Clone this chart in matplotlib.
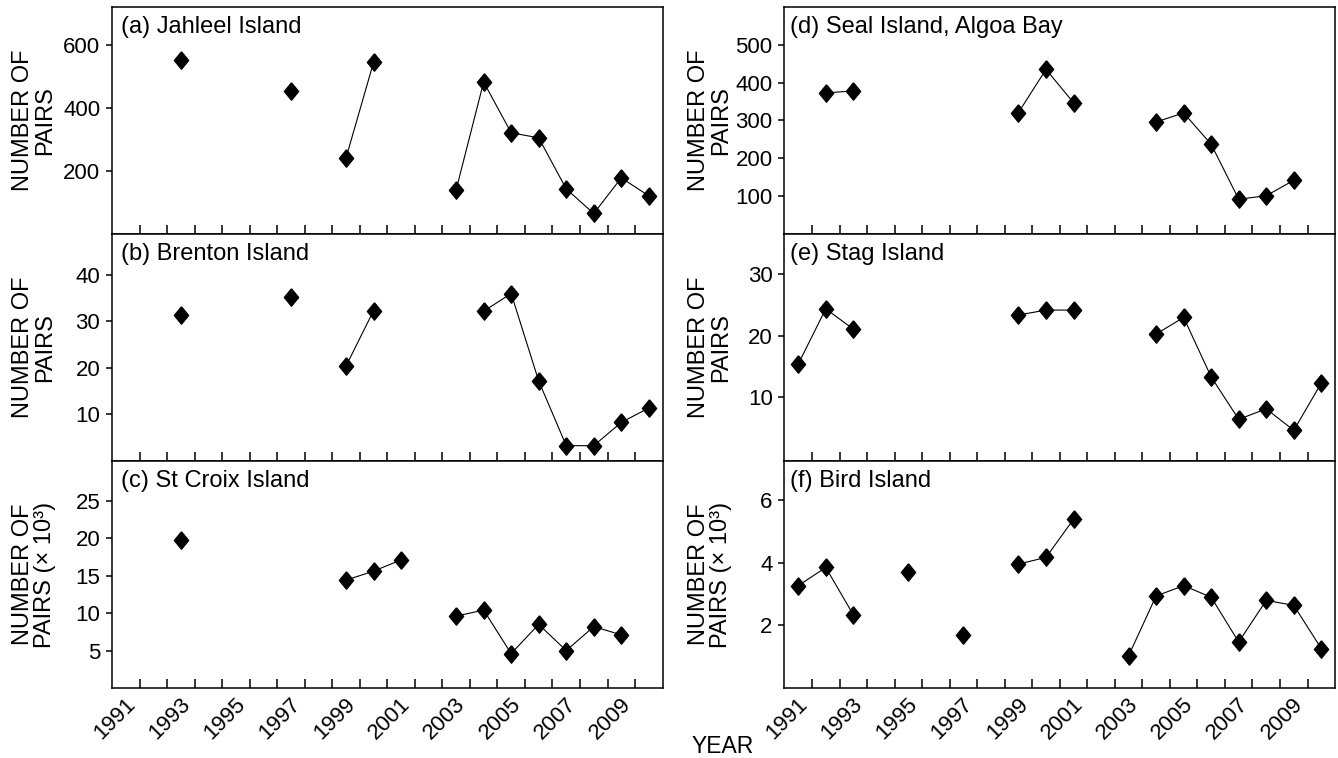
import matplotlib
matplotlib.use("Agg")
import matplotlib.pyplot as plt
import matplotlib.transforms as mtransforms
import numpy as np

plt.rcParams['font.family'] = ['Liberation Sans', 'DejaVu Sans']

# breeding seasons, one entry per year; None = no count
years = list(range(1990, 2010))

jahleel = [None, None, 552, None, None, None, 454, None, 241, 544,
           None, None, 140, 482, 321, 305, 143, 65, 178, 121]
brenton = [None, None, 31.4, None, None, None, 35.3, None, 20.4, 32.3,
           None, None, None, 32.2, 36.0, 17.2, 3.3, 3.3, 8.3, 11.4]
st_croix = [None, None, 19.7, None, None, None, None, None, 14.4, 15.6,
            17.1, None, 9.6, 10.4, 4.6, 8.5, 5.0, 8.2, 7.1, None]
seal = [None, 373, 378, None, None, None, None, None, 321, 435,
        347, None, None, 296, 320, 237, 92, 101, 142, None]
stag = [15.4, 24.4, 21.1, None, None, None, None, None, 23.4, 24.2,
        24.2, None, None, 20.3, 23.0, 13.3, 6.4, 8.1, 4.6, 12.3]
bird = [3.27, 3.85, 2.34, None, 3.69, None, 1.68, None, 3.96, 4.17,
        5.39, None, 1.03, 2.94, 3.27, 2.90, 1.47, 2.80, 2.64, 1.26]

titles = ["(a) Jahleel Island", "(b) Brenton Island", "(c) St Croix Island",
          "(d) Seal Island, Algoa Bay", "(e) Stag Island", "(f) Bird Island"]
series = [jahleel, brenton, st_croix, seal, stag, bird]
ylims = [(0, 720), (0, 48.8), (0, 30.3), (0, 600), (-0.4, 36.6), (0, 7.25)]
yticks = [[200, 400, 600], [10, 20, 30, 40], [5, 10, 15, 20, 25],
          [100, 200, 300, 400, 500], [10, 20, 30], [2, 4, 6]]
ylabels = ["NUMBER OF\nPAIRS", "NUMBER OF\nPAIRS", "NUMBER OF\nPAIRS (\u00d7 10\u00b3)",
           "NUMBER OF\nPAIRS", "NUMBER OF\nPAIRS", "NUMBER OF\nPAIRS (\u00d7 10\u00b3)"]

# diamond a little taller than wide
diamond = [(0, 1), (0.82, 0), (0, -1), (-0.82, 0), (0, 1)]

fig = plt.figure(figsize=(13.38, 7.58), dpi=100)

col_x = [0.0837, 0.5863]
col_w = 0.4115
label_x = [12 / 1338, 688 / 1338]
row_h = 0.2995
bottom = 0.0923

for i in range(6):
    col, row = divmod(i, 3)
    ax = fig.add_axes([col_x[col], bottom + (2 - row) * row_h, col_w, row_h])

    y = np.array([np.nan if v is None else v for v in series[i]], float)
    x = np.array(years) + 0.5
    ax.plot(x, y, color='black', lw=0.8, marker=diamond, ms=12.5,
            mfc='black', mec='black', clip_on=False, zorder=3)

    ax.set_xlim(1990, 2010)
    ax.set_ylim(*ylims[i])
    ax.set_yticks(yticks[i])
    ax.set_xticks(range(1991, 2010))
    if row == 2:
        ax.set_xticklabels([str(y) if y % 2 == 1 else '' for y in range(1991, 2010)],
                           rotation=45, ha='right')
    else:
        ax.set_xticklabels([])

    ax.tick_params(axis='x', direction='in', length=6.5, width=1.1, pad=4,
                   labelsize=16, bottom=True, top=False)
    ax.tick_params(axis='y', direction='out', length=4.5, width=1.1, pad=4,
                   labelsize=16, left=True, right=False)
    for s in ax.spines.values():
        s.set_linewidth(1.1)

    ax.text(0.016 if col == 0 else 0.010, 0.912, titles[i], transform=ax.transAxes,
            fontsize=17, ha='left', va='center')

    ax.set_ylabel(ylabels[i], fontsize=17, va='top', ha='center',
                  linespacing=1.0, multialignment='center')
    trans = mtransforms.blended_transform_factory(fig.transFigure, ax.transAxes)
    ax.yaxis.set_label_coords(label_x[col], 0.5, transform=trans)

fig.text(723 / 1338, 5 / 758, "YEAR", ha='center', va='baseline', fontsize=16.5)

fig.savefig("out.png", dpi=100)
